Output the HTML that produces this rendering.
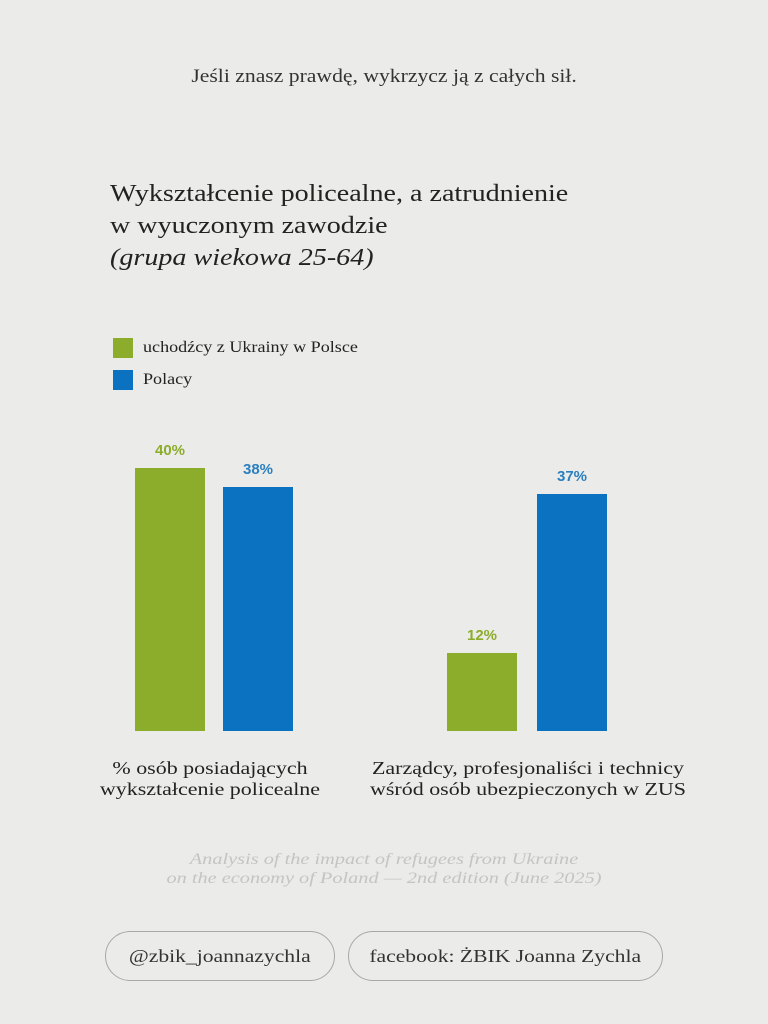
<!DOCTYPE html>
<html><head><meta charset="utf-8"><style>
body{margin:0;width:768px;height:1024px;background:#ebebe9;position:relative;overflow:hidden;font-family:"Liberation Serif",serif;color:#222}
.a{position:absolute}
.bar{position:absolute;bottom:293px}
.g{background:#8cac2b}.b{background:#0b72c1}
.pl{position:absolute;font-family:"Liberation Sans",sans-serif;font-weight:bold;font-size:15px;width:70px;text-align:center}
.pill{position:absolute;top:931px;height:48px;border:1px solid #a8a8a8;border-radius:25px;font-size:18px;line-height:48px;text-align:center;color:#333}
.s{display:inline-block}
</style></head><body>
<div class="a" style="top:66px;width:768px;text-align:center;font-size:19px;color:#333"><span class="s" style="transform:scaleX(1.14)">Jeśli znasz prawdę, wykrzycz ją z całych sił.</span></div>
<div class="a" style="left:110px;top:178px;font-size:24px;line-height:32px;color:#222;transform:scaleX(1.17);transform-origin:0 0;white-space:nowrap">Wykształcenie policealne, a zatrudnienie<br>w wyuczonym zawodzie<br><i>(grupa wiekowa 25-64)</i></div>
<div class="a g" style="left:113px;top:338px;width:20px;height:20px"></div>
<div class="a" style="left:143px;top:338px;font-size:16px;line-height:20px;transform:scaleX(1.13);transform-origin:0 0;white-space:nowrap">uchodźcy z Ukrainy w Polsce</div>
<div class="a b" style="left:113px;top:370px;width:20px;height:20px"></div>
<div class="a" style="left:143px;top:370px;font-size:16px;line-height:20px;transform:scaleX(1.13);transform-origin:0 0">Polacy</div>

<div class="bar g" style="left:135px;width:70px;top:468px"></div>
<div class="bar b" style="left:223px;width:70px;top:487px"></div>
<div class="bar g" style="left:447px;width:70px;top:653px"></div>
<div class="bar b" style="left:537px;width:70px;top:494px"></div>
<div class="pl" style="left:135px;top:442px;color:#8cac2b">40%</div>
<div class="pl" style="left:223px;top:461px;color:#2b7fbf">38%</div>
<div class="pl" style="left:447px;top:627px;color:#8cac2b">12%</div>
<div class="pl" style="left:537px;top:468px;color:#2b7fbf">37%</div>

<div class="a" style="left:60px;width:300px;top:758px;text-align:center;font-size:18px;line-height:21px;transform:scaleX(1.22)">% osób posiadających<br>wykształcenie policealne</div>
<div class="a" style="left:348px;width:360px;top:758px;text-align:center;font-size:18px;line-height:21px;transform:scaleX(1.22)">Zarządcy, profesjonaliści i technicy<br>wśród osób ubezpieczonych w ZUS</div>
<div class="a" style="top:850px;width:768px;text-align:center;font-size:16px;line-height:19px;color:#c4c4c2;font-style:italic;transform:scaleX(1.27)">Analysis of the impact of refugees from Ukraine<br>on the economy of Poland — 2nd edition (June 2025)</div>
<div class="pill" style="left:105px;width:228px"><span class="s" style="transform:scaleX(1.2)">@zbik_joannazychla</span></div>
<div class="pill" style="left:348px;width:313px"><span class="s" style="transform:scaleX(1.2)">facebook: ŻBIK Joanna Zychla</span></div>
</body></html>
